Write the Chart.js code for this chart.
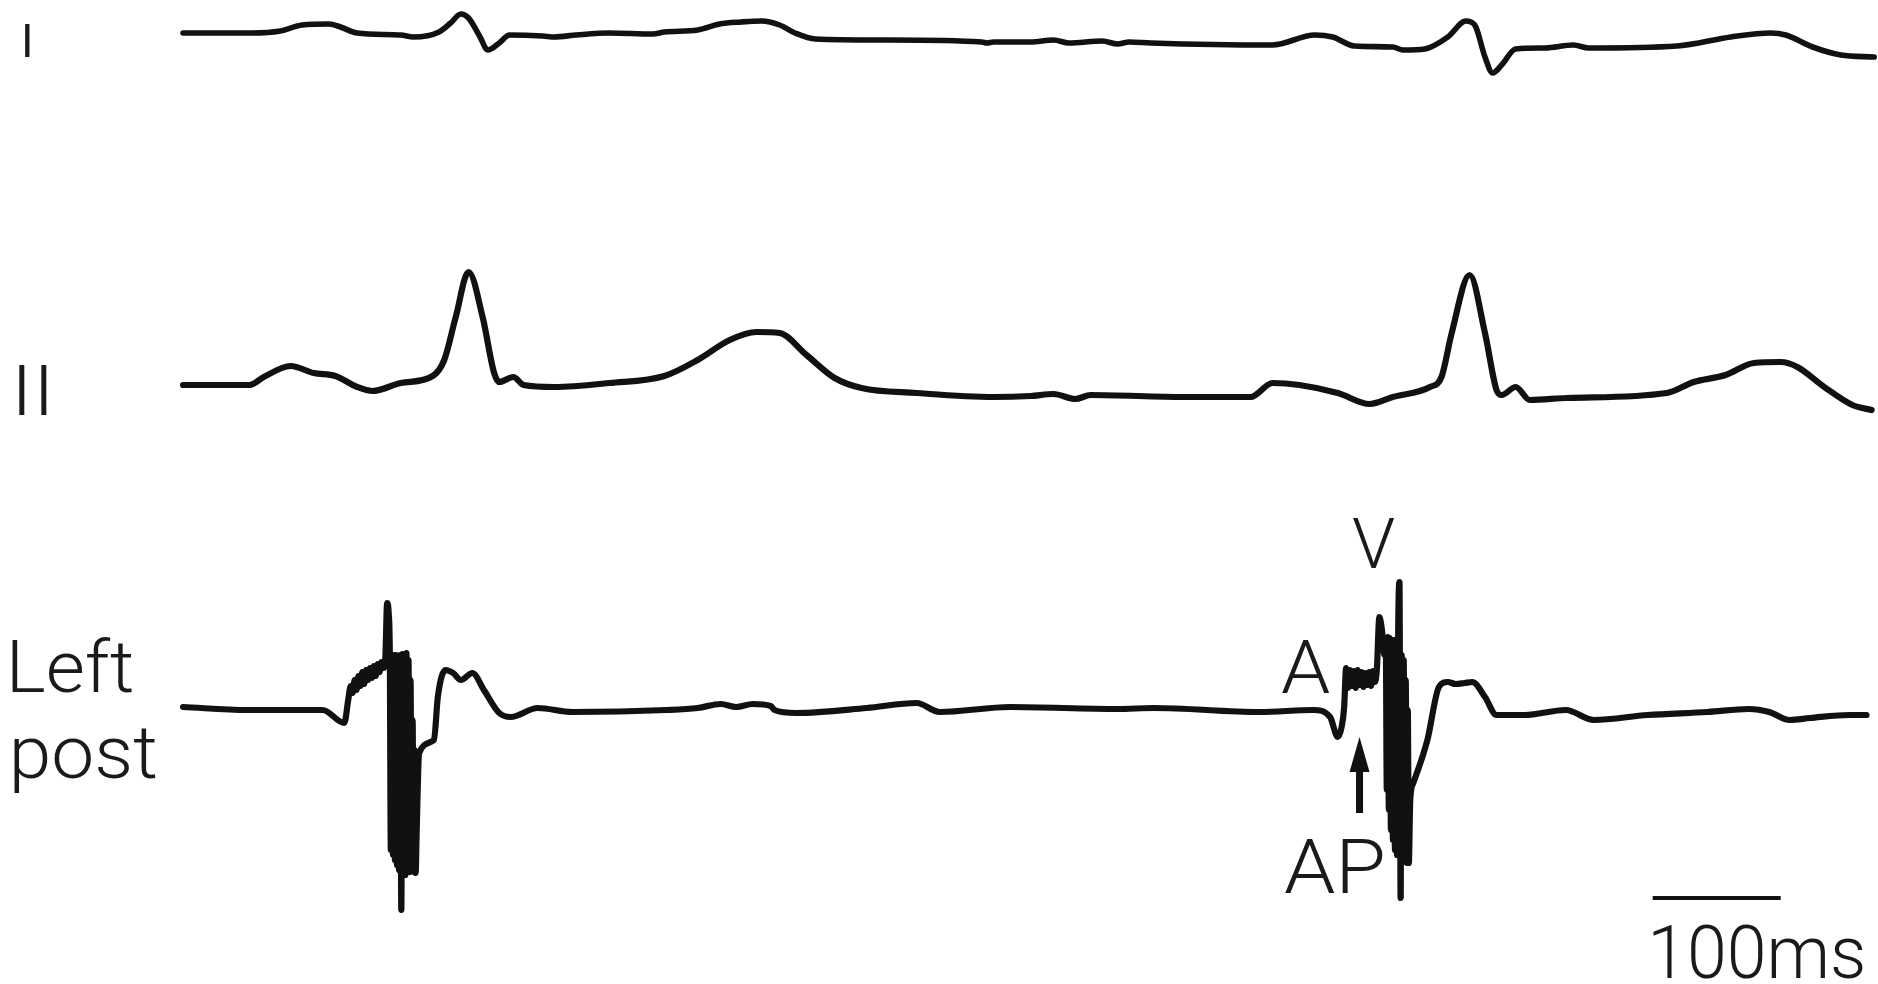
<!DOCTYPE html>
<html>
<head>
<meta charset="utf-8">
<script src="https://cdn.jsdelivr.net/npm/chart.js@4"></script>
<style>
  html, body { margin:0; padding:0; background:#fff; }
  #wrap { width:1878px; height:984px; position:relative; }
</style>
</head>
<body>
<div id="wrap"><canvas id="ecg"></canvas></div>
<script>
/* =======================
   DATA  (time in ms, amplitude in mV)
======================= */
const leadI = [
  [0,0.02],[54,0.02],[76,0.04],[93,0.10],[114,0.11],[123,0.08],[136,0.02],[170,0.00],
  [180,-0.02],[200,0.03],[209,0.12],[217,0.21],[223,0.17],[232,-0.02],[238,-0.15],[247,-0.08],
  [255,0.00],[281,-0.01],[290,-0.02],[307,0.00],[333,0.02],[367,0.01],[376,0.03],[402,0.05],
  [419,0.11],[436,0.13],[452,0.14],[466,0.10],[478,0.02],[494,-0.04],[547,-0.05],[624,-0.07],
  [628,-0.08],[633,-0.07],[662,-0.07],[680,-0.05],[692,-0.08],[718,-0.06],[730,-0.09],[739,-0.07],
  [756,-0.08],[851,-0.10],[884,0.00],[898,-0.02],[915,-0.11],[945,-0.12],[953,-0.15],[970,-0.14],
  [988,-0.02],[1002,0.14],[1009,0.10],[1017,-0.22],[1023,-0.38],[1030,-0.30],[1041,-0.14],[1064,-0.13],
  [1086,-0.10],[1098,-0.13],[1167,-0.11],[1209,-0.02],[1240,0.02],[1252,0.00],[1273,-0.12],[1295,-0.20],
  [1321,-0.22]
];

const leadII = [
  [0,0.00],[52,0.00],[63,0.08],[84,0.19],[102,0.12],[119,0.09],[136,-0.02],[148,-0.06],
  [170,0.02],[195,0.09],[204,0.25],[213,0.68],[223,1.13],[234,0.68],[243,0.12],[247,0.03],
  [258,0.08],[266,0.00],[290,-0.02],[333,0.02],[376,0.09],[402,0.25],[427,0.45],[448,0.53],
  [466,0.52],[487,0.30],[509,0.07],[530,-0.03],[573,-0.08],[633,-0.12],[662,-0.11],[680,-0.09],
  [697,-0.14],[709,-0.10],[782,-0.12],[834,-0.12],[851,0.02],[872,0.00],[902,-0.08],[927,-0.19],
  [945,-0.12],[974,-0.02],[983,0.08],[991,0.52],[1005,1.10],[1017,0.52],[1026,-0.05],[1030,-0.10],
  [1041,-0.02],[1052,-0.15],[1081,-0.13],[1159,-0.08],[1180,0.03],[1205,0.10],[1227,0.22],[1248,0.23],
  [1261,0.18],[1282,-0.02],[1304,-0.20],[1319,-0.25]
];

const leftPost = [
  [0,0.03],[50,0.00],[109,0.00],[126,-0.13],[129,0.10],[131,0.24],[132.5,0.17],[134,0.30],
  [135.5,0.20],[137,0.34],[138.5,0.24],[140,0.38],[141.5,0.26],[143,0.40],[144.5,0.30],[146,0.42],
  [147.5,0.32],[149,0.44],[150.5,0.34],[152,0.46],[153.5,0.38],[155,0.48],[156.5,0.42],[158,0.52],
  [159.4,1.07],[160.6,0.97],[161.5,0.55],[162.3,-1.40],[163.1,0.52],[163.9,-1.45],[164.7,0.55],[165.5,-1.50],
  [166.3,0.55],[167.1,-1.55],[167.9,0.52],[168.7,-1.60],[169.5,0.55],[170.5,-2.00],[171.3,0.56],[172.1,-1.65],
  [172.9,0.55],[173.7,-1.65],[174.5,0.57],[175.3,-1.62],[176.1,0.50],[176.9,-1.62],[177.7,0.30],[178.5,-1.60],
  [179.3,-0.10],[180.1,-1.62],[180.9,-0.40],[181.7,-1.63],[182.5,-1.20],[184.4,-0.43],[196,-0.30],[199,0.13],
  [205,0.40],[211,0.37],[217,0.30],[226,0.37],[235,0.20],[247,-0.03],[256,-0.07],[277,0.02],
  [304,-0.02],[378,0.00],[402,0.02],[420,0.06],[432,0.03],[445,0.06],[459,0.04],[462,0.00],
  [479,-0.03],[534,0.02],[573,0.07],[591,-0.02],[646,0.03],[730,0.01],[758,0.02],[841,-0.02],
  [883,0.00],[896,-0.07],[902,-0.27],[905,-0.17],[907,0.03],[908.5,0.42],[910,0.22],[911.5,0.40],
  [913,0.24],[914.5,0.39],[916,0.22],[917.5,0.40],[919,0.25],[920.5,0.38],[922,0.23],[923.5,0.37],
  [925,0.25],[926.5,0.38],[928,0.24],[929.5,0.39],[931,0.28],[932.5,0.40],[934.5,0.93],[936.5,0.80],
  [938.5,0.55],[939.5,0.72],[940.3,-0.80],[941.1,0.73],[941.9,-1.00],[942.7,0.72],[943.5,-1.20],[944.3,0.70],
  [945.1,-1.30],[945.9,0.70],[946.7,-1.40],[947.5,0.68],[948.3,-1.45],[949.1,0.65],[950.2,1.28],[951.1,-1.88],
  [951.9,0.55],[952.7,-1.50],[953.5,0.50],[954.3,-1.52],[955.1,0.30],[955.9,-1.53],[956.7,0.00],[957.5,-1.53],
  [958.6,-0.90],[961,-0.73],[972,-0.30],[981,0.23],[988,0.28],[994,0.26],[1001,0.27],[1007,0.28],
  [1017,0.13],[1026,-0.05],[1048,-0.05],[1080,0.00],[1102,-0.10],[1144,-0.05],[1191,-0.02],[1223,0.01],
  [1239,-0.02],[1255,-0.10],[1271,-0.08],[1302,-0.05],[1315,-0.05]
];

const leadNames = ['I', 'II', 'Left post'];
const apTime = 919;          // pacing artefact marked by the arrow
const scaleBarStart = 1148;  // ms
const scaleBarLength = 100;  // ms

/* =======================
   HELPERS
======================= */
const toXY = arr => arr.map(p => ({x:p[0], y:p[1]}));
const FONT = '"Roboto", "Liberation Sans", Arial, sans-serif';

// draws text with its ink starting at `left` on the baseline; optional width stretches it
function drawFit(ctx, text, left, baseline, size, width, weight){
  ctx.save();
  ctx.font = (weight || 300) + ' ' + size + 'px ' + FONT;
  const m = ctx.measureText(text);
  const inkW = m.actualBoundingBoxRight + m.actualBoundingBoxLeft;
  const sx = width ? width / inkW : 1;
  ctx.translate(left, baseline);
  ctx.scale(sx, 1);
  ctx.fillText(text, m.actualBoundingBoxLeft, 0);
  ctx.restore();
}

/* =======================
   ANNOTATIONS
======================= */
const annotations = {
  id: 'annotations',
  afterDraw(chart){
    const ctx = chart.ctx;
    const xs = chart.scales.x;
    ctx.save();
    ctx.fillStyle = '#1a1a1a';
    ctx.textBaseline = 'alphabetic';

    // lead labels
    drawFit(ctx, leadNames[0], 25, 57, 46, null, 400);
    drawFit(ctx, leadNames[1], 19, 415, 70, 28);
    const [w1, w2] = leadNames[2].split(' ');
    drawFit(ctx, w1, 12, 692, 72, 120);
    drawFit(ctx, w2, 14, 778, 74, 142);

    // electrogram markers
    drawFit(ctx, 'V', 1353, 568, 70, 42);
    drawFit(ctx, 'A', 1282, 693, 74, 48);
    drawFit(ctx, 'AP', 1285, 893, 76, 98);

    // arrow to AP
    const ax = xs.getPixelForValue(apTime);
    ctx.strokeStyle = '#111';
    ctx.lineWidth = 7;
    ctx.beginPath();
    ctx.moveTo(ax, 813);
    ctx.lineTo(ax, 765);
    ctx.stroke();
    ctx.beginPath();
    ctx.moveTo(ax, 737);
    ctx.lineTo(ax - 10, 772);
    ctx.lineTo(ax + 10, 772);
    ctx.closePath();
    ctx.fillStyle = '#111';
    ctx.fill();

    // scale bar
    const x0 = xs.getPixelForValue(scaleBarStart);
    const x1 = xs.getPixelForValue(scaleBarStart + scaleBarLength);
    ctx.lineWidth = 4;
    ctx.beginPath();
    ctx.moveTo(x0, 898);
    ctx.lineTo(x1, 898);
    ctx.stroke();
    ctx.fillStyle = '#1a1a1a';
    drawFit(ctx, scaleBarLength + 'ms', 1653, 978, 74, 210);
    ctx.restore();
  }
};

/* =======================
   CHART
======================= */
const traceStyle = {
  borderColor:'#111',
  borderWidth:6.2,
  pointRadius:0,
  fill:false,
  cubicInterpolationMode:'monotone',
  borderJoinStyle:'round',
  borderCapStyle:'round',
  clip:false
};

// 100 px per mV, baselines at 35 / 385 / 710 px of a 984 px plot
const yAxis = (top) => ({ type:'linear', display:false, min: top - 9.84, max: top });

new Chart(document.getElementById('ecg'), {
  type:'line',
  data:{
    datasets:[
      {label:leadNames[0], data:toXY(leadI), yAxisID:'yI', ...traceStyle, borderWidth:5.6},
      {label:leadNames[1], data:toXY(leadII), yAxisID:'yII', ...traceStyle},
      {label:leadNames[2], data:toXY(leftPost), yAxisID:'yLP', ...traceStyle}
    ]
  },
  options:{
    responsive:true,
    maintainAspectRatio:false,
    animation:false,
    layout:{ padding:0 },
    plugins:{ legend:{display:false}, tooltip:{enabled:false} },
    scales:{
      x:{ type:'linear', display:false, min:-143, max:1324 },
      yI: yAxis(0.35),
      yII: yAxis(3.85),
      yLP: yAxis(7.10)
    }
  },
  plugins:[annotations]
});
</script>
</body>
</html>
